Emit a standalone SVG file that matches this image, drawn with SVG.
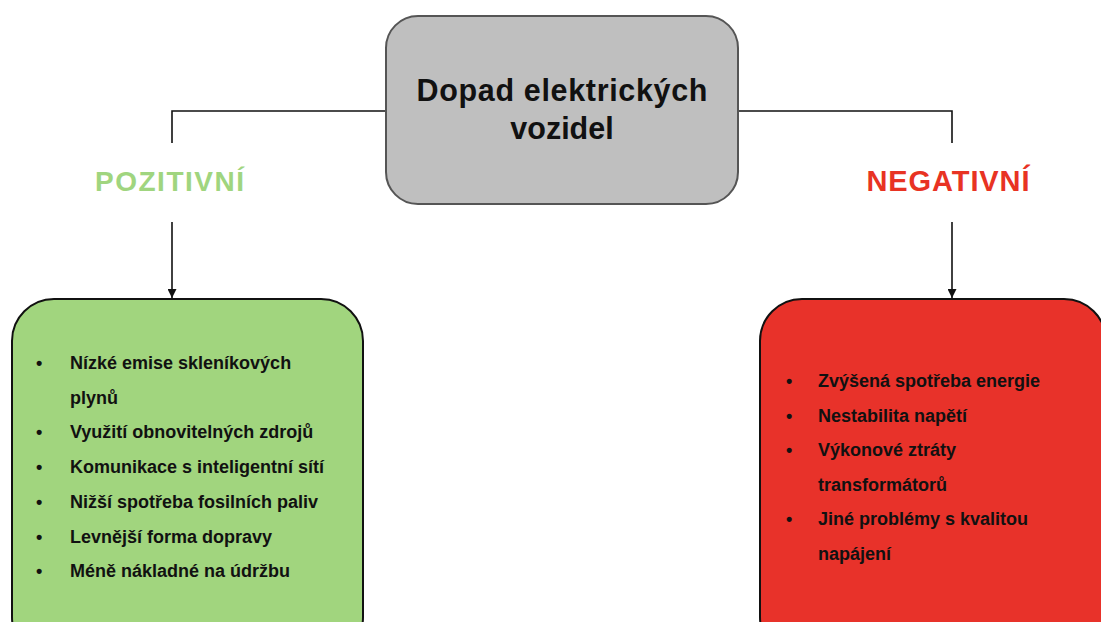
<svg xmlns="http://www.w3.org/2000/svg" width="1101" height="622" viewBox="0 0 1101 622">
<style>
.t{font-family:"Liberation Sans",Arial,sans-serif;font-weight:bold}
.item{font-size:18px;fill:#111}
.conn{fill:none;stroke:#111;stroke-width:1.6}
</style>
<defs>
<marker id="arr" viewBox="0 0 10 10" refX="10" refY="5" markerWidth="9" markerHeight="9" markerUnits="userSpaceOnUse" orient="auto">
<path d="M0,0 L10,5 L0,10 Z" fill="#111"/>
</marker>
</defs>
<rect width="1101" height="622" fill="#fff"/>
<g id="connectors">
<polyline class="conn" points="386,111 172,111 172,143"/>
<line class="conn" x1="172" y1="222" x2="172" y2="298" marker-end="url(#arr)"/>
<polyline class="conn" points="738,111 952,111 952,143"/>
<line class="conn" x1="952" y1="222" x2="952" y2="298" marker-end="url(#arr)"/>
</g>
<g id="root">
<rect x="386" y="16" width="352" height="188" rx="32" fill="#bfbfbf" stroke="#555" stroke-width="2"/>
<text class="t" x="562" y="101" font-size="30.5" text-anchor="middle" textLength="291" lengthAdjust="spacing" fill="#111">Dopad elektrických</text>
<text class="t" x="562" y="139" font-size="30.5" text-anchor="middle" fill="#111">vozidel</text>
</g>
<g id="label-pozitivni">
<text class="t" x="169.5" y="191" font-size="28" text-anchor="middle" textLength="149" lengthAdjust="spacing" fill="#a0d57f">POZITIVNÍ</text>
</g>
<g id="label-negativni">
<text class="t" x="948" y="191" font-size="29" text-anchor="middle" textLength="163" lengthAdjust="spacing" fill="#e83323">NEGATIVNÍ</text>
</g>
<g id="positive-box">
<rect x="12" y="299" width="351" height="360" rx="42" fill="#a1d57e" stroke="#111" stroke-width="2"/>
<g class="t item">
<text x="36" y="369">•</text><text x="70" y="369">Nízké emise skleníkových</text>
<text x="70" y="403.5">plynů</text>
<text x="36" y="438">•</text><text x="70" y="438">Využití obnovitelných zdrojů</text>
<text x="36" y="473">•</text><text x="70" y="473">Komunikace s inteligentní sítí</text>
<text x="36" y="508">•</text><text x="70" y="508">Nižší spotřeba fosilních paliv</text>
<text x="36" y="542.5">•</text><text x="70" y="542.5">Levnější forma dopravy</text>
<text x="36" y="577">•</text><text x="70" y="577">Méně nákladné na údržbu</text>
</g>
</g>
<g id="negative-box">
<rect x="760" y="299" width="346" height="360" rx="42" fill="#e8322a" stroke="#111" stroke-width="2"/>
<g class="t item">
<text x="786" y="387">•</text><text x="818" y="387">Zvýšená spotřeba energie</text>
<text x="786" y="421.5">•</text><text x="818" y="421.5">Nestabilita napětí</text>
<text x="786" y="456">•</text><text x="818" y="456">Výkonové ztráty</text>
<text x="818" y="490.5">transformátorů</text>
<text x="786" y="525">•</text><text x="818" y="525">Jiné problémy s kvalitou</text>
<text x="818" y="559.5">napájení</text>
</g>
</g>
</svg>
